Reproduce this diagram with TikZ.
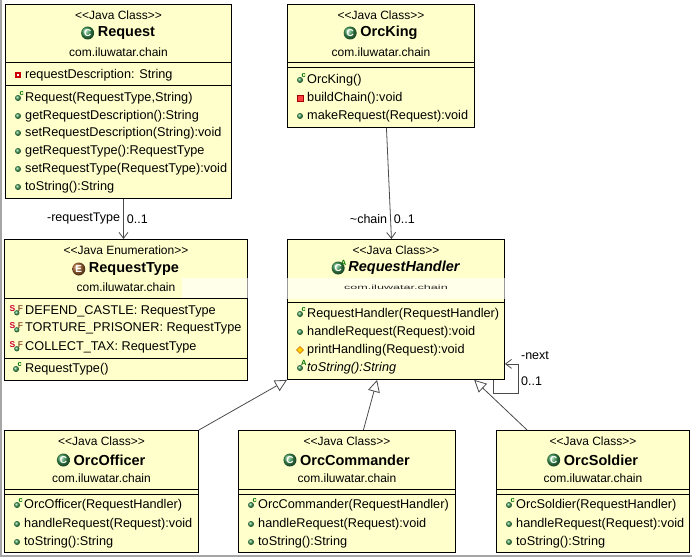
\documentclass[tikz,border=0pt]{standalone}
\usepackage{fontspec}
\setmainfont{Liberation Sans}
\usetikzlibrary{calc}
\usetikzlibrary{arrows.meta}
\definecolor{classfill}{HTML}{FFFFCC}
\definecolor{linkgray}{HTML}{4A4A4A}
\definecolor{pubgreen}{HTML}{3F9A55}
\definecolor{enumbrown}{HTML}{B0703A}
\newcommand{\jstereo}[1]{<\kern0pt<#1>\kern0pt>}
\tikzset{
	classbox/.style={draw=black, fill=classfill, line width=0.9pt, inner sep=0pt, anchor=north west},
	divider/.style={draw=black, line width=0.9pt},
	stereo/.style={font=\fontsize{12}{14}\selectfont, inner sep=0pt},
	cname/.style={font=\fontsize{14.5}{16}\selectfont\bfseries, inner sep=0pt},
	member/.style={font=\fontsize{12.7}{14}\selectfont, inner sep=0pt, anchor=west},
	linklabel/.style={font=\fontsize{12.5}{14}\selectfont, inner sep=3pt},
	assoc/.style={draw=linkgray, line width=0.8pt, -{Straight Barb[length=6pt,width=9pt]}},
	generalize/.style={draw=linkgray, line width=0.8pt, -{Triangle[open,length=12pt,width=12pt,fill=white]}},
	tiny/.style={font=\fontsize{7.5}{7.5}\selectfont\bfseries, inner sep=0pt},
	pub/.pic={
		\shade[ball color=pubgreen] (0,0) circle (3pt);
	},
	ctor/.pic={
		\shade[ball color=pubgreen] (0,0) circle (3pt);
		\node[tiny, text=green!45!black] at (3.8pt,4.8pt) {c};
	},
	abstr/.pic={
		\shade[ball color=pubgreen] (0,0) circle (3pt);
		\node[tiny, text=green!45!black] at (3.8pt,4.8pt) {A};
	},
	privfield/.pic={
		\fill[red!80!black] (-3pt,-3pt) rectangle (3pt,3pt);
		\fill[white] (-1.2pt,-1.2pt) rectangle (1.2pt,1.2pt);
	},
	privmethod/.pic={
		\draw[red!65!black, fill=red!75, line width=0.5pt] (-3pt,-3pt) rectangle (3pt,3pt);
	},
	prot/.pic={
		\draw[orange!80!black, fill=yellow!70!orange, line width=0.4pt] (0,3.5pt) -- (3.5pt,0) -- (0,-3.5pt) -- (-3.5pt,0) -- cycle;
	},
	sfinal/.pic={
		\node[tiny, text=purple!80!red, font=\fontsize{8.5}{8.5}\selectfont\bfseries] at (-3.5pt,2.5pt) {S};
		\shade[ball color=pubgreen] (0.8pt,-1.8pt) circle (2.6pt);
		\node[tiny, text=enumbrown!80!black, font=\fontsize{8.5}{8.5}\selectfont\bfseries] at (4.5pt,2.5pt) {F};
	},
	classicon/.pic={
		\shade[ball color=pubgreen] (0,0) circle (6.5pt);
		\node[text=white, font=\fontsize{10}{10}\selectfont\bfseries, inner sep=0pt] at (0,0) {C};
	},
	abstrclassicon/.pic={
		\shade[ball color=pubgreen] (0,0) circle (6.5pt);
		\node[text=white, font=\fontsize{10}{10}\selectfont\bfseries, inner sep=0pt] at (0,0) {C};
		\node[tiny, text=green!45!black] at (5.5pt,5.5pt) {A};
	},
	enumicon/.pic={
		\shade[ball color=enumbrown] (0,0) circle (6.5pt);
		\node[text=white, font=\fontsize{10}{10}\selectfont\bfseries, inner sep=0pt] at (0,0) {E};
	},
}

\begin{document}
\begin{tikzpicture}[x=1pt,y=-1pt]
	\useasboundingbox (0,0) rectangle (692,559);
	\draw[gray!70, line width=1.5pt] (0.75,0) -- (0.75,556) -- (692,556);

	% boxes
	\node[classbox, minimum width=226pt, minimum height=194pt] (request) at (5,4) {};
	\node[classbox, minimum width=187pt, minimum height=123pt] (king) at (287,4) {};
	\node[classbox, minimum width=243pt, minimum height=141pt] (reqtype) at (4,239) {};
	\node[classbox, minimum width=217pt, minimum height=140pt] (handler) at (287,239) {};
	\node[classbox, minimum width=194pt, minimum height=122pt] (officer) at (4,430) {};
	\node[classbox, minimum width=217pt, minimum height=122pt] (commander) at (238,430) {};
	\node[classbox, minimum width=193pt, minimum height=122pt] (soldier) at (496,430) {};
	\fill[white, opacity=0.6] (182,278) rectangle (520,299);

	% Request
	\node[stereo] (request-st) at (request.north |- 0,15) {\jstereo{Java Class}};
	\node[cname] (request-name) at ($(request.north |- 0,33)+(8,0)$) {Request};
	\pic at ($(request-name.west)+(-10,0)$) {classicon};
	\node[stereo] (request-pk) at (request.north |- 0,52) {com.iluwatar.chain};
	\draw[divider] (request.west |- 0,62) -- (request.east |- 0,62);
	\draw[divider] (request.west |- 0,85) -- (request.east |- 0,85);
	\foreach \y/\ic/\txt in {75/privfield/{requestDescription: String},
		98/ctor/{Request(RequestType,String)},
		116/pub/{getRequestDescription():String},
		133/pub/{setRequestDescription(String):void},
		151/pub/{getRequestType():RequestType},
		169/pub/{setRequestType(RequestType):void},
		187/pub/{toString():String}}{
		\pic at ($(request.west |- 0,\y)+(13,0)$) {\ic};
		\node[member] (request-\y) at ($(request.west |- 0,\y)+(20,0)$) {\txt};
	}

	% OrcKing
	\node[stereo] (king-st) at (king.north |- 0,15) {\jstereo{Java Class}};
	\node[cname] (king-name) at ($(king.north |- 0,33)+(8,0)$) {OrcKing};
	\pic at ($(king-name.west)+(-10,0)$) {classicon};
	\node[stereo] (king-pk) at (king.north |- 0,52) {com.iluwatar.chain};
	\draw[divider] (king.west |- 0,62) -- (king.east |- 0,62);
	\draw[divider] (king.west |- 0,67) -- (king.east |- 0,67);
	\foreach \y/\ic/\txt in {80/ctor/{OrcKing()},
		98/privmethod/{buildChain():void},
		116/pub/{makeRequest(Request):void}}{
		\pic at ($(king.west |- 0,\y)+(13,0)$) {\ic};
		\node[member] (king-\y) at ($(king.west |- 0,\y)+(20,0)$) {\txt};
	}

	% RequestType
	\node[stereo] (reqtype-st) at (reqtype.north |- 0,250) {\jstereo{Java Enumeration}};
	\node[cname] (reqtype-name) at ($(reqtype.north |- 0,269)+(8,0)$) {RequestType};
	\pic at ($(reqtype-name.west)+(-10,0)$) {enumicon};
	\node[stereo] (reqtype-pk) at (reqtype.north |- 0,287) {com.iluwatar.chain};
	\draw[divider] (reqtype.west |- 0,298) -- (reqtype.east |- 0,298);
	\draw[divider] (reqtype.west |- 0,358) -- (reqtype.east |- 0,358);
	\foreach \y/\ic/\txt in {311/sfinal/{DEFEND\_CASTLE: RequestType},
		328/sfinal/{TORTURE\_PRISONER: RequestType},
		347/sfinal/{COLLECT\_TAX: RequestType},
		369/ctor/{RequestType()}}{
		\pic at ($(reqtype.west |- 0,\y)+(12,0)$) {\ic};
		\node[member] (reqtype-\y) at ($(reqtype.west |- 0,\y)+(21,0)$) {\txt};
	}

	% RequestHandler
	\node[stereo] (handler-st) at (handler.north |- 0,250) {\jstereo{Java Class}};
	\node[cname, font=\fontsize{14.5}{16}\selectfont\bfseries\itshape] (handler-name) at ($(handler.north |- 0,268)+(8,0)$) {RequestHandler};
	\pic at ($(handler-name.west)+(-10,0)$) {abstrclassicon};
	\node[stereo, text=black!85] (handler-pk) at (handler.north |- 0,287) {\scalebox{1.05}[0.5]{com.iluwatar.chain}};
	\draw[divider] (handler.west |- 0,302) -- (handler.east |- 0,302);
	\foreach \y/\ic/\txt in {314/ctor/{RequestHandler(RequestHandler)},
		332/pub/{handleRequest(Request):void},
		350/prot/{printHandling(Request):void},
		368/abstr/{\itshape toString():String}}{
		\pic at ($(handler.west |- 0,\y)+(13,0)$) {\ic};
		\node[member] (handler-\y) at ($(handler.west |- 0,\y)+(20,0)$) {\txt};
	}

	% OrcOfficer, OrcCommander, OrcSoldier
	\foreach \cls/\name in {officer/OrcOfficer, commander/OrcCommander, soldier/OrcSoldier}{
		\node[stereo] (\cls-st) at (\cls.north |- 0,441) {\jstereo{Java Class}};
		\node[cname] (\cls-name) at ($(\cls.north |- 0,460)+(8,0)$) {\name};
		\pic at ($(\cls-name.west)+(-10,0)$) {classicon};
		\node[stereo] (\cls-pk) at (\cls.north |- 0,478) {com.iluwatar.chain};
		\draw[divider] (\cls.west |- 0,489) -- (\cls.east |- 0,489);
		\draw[divider] (\cls.west |- 0,494) -- (\cls.east |- 0,494);
		\pic at ($(\cls.west |- 0,505)+(13,0)$) {ctor};
		\node[member] (\cls-505) at ($(\cls.west |- 0,505)+(20,0)$) {\name(RequestHandler)};
		\pic at ($(\cls.west |- 0,524)+(13,0)$) {pub};
		\node[member] (\cls-524) at ($(\cls.west |- 0,524)+(20,0)$) {handleRequest(Request):void};
		\pic at ($(\cls.west |- 0,542)+(13,0)$) {pub};
		\node[member] (\cls-542) at ($(\cls.west |- 0,542)+(20,0)$) {toString():String};
	}

	% associations
	\draw[assoc] ($(request.south)+(5,0)$) -- ($(request.south |- reqtype.north)+(5,0)$)
		node[linklabel, pos=0.5, left] (rt-role) {-requestType}
		node[linklabel, pos=0.5, right] (rt-mult) {0..1};
	\draw[assoc] ($(king.south)+(5.5,0)$) -- ($(handler.north)+(-4.5,0)$)
		node[linklabel, pos=0.82, left] (chain-role) {\textasciitilde chain}
		node[linklabel, pos=0.82, right] (chain-mult) {0..1};
	\draw[assoc] ($(handler.south east)+(-12,0)$) -- ++(0,13) -- ++(25,0) |- ($(handler.south east)+(0,-16)$);
	\node[linklabel, anchor=west] (next-role) at ($(handler.south east)+(13,-24)$) {-next};
	\node[linklabel, anchor=west] (next-mult) at ($(handler.south east)+(13,1)$) {0..1};

	% generalizations
	\draw[generalize] (officer.north east) -- (handler.south west);
	\draw[generalize] (commander.75) -- (handler.255);
	\draw[generalize] (soldier.137) -- (handler.318);
\end{tikzpicture}
\end{document}
